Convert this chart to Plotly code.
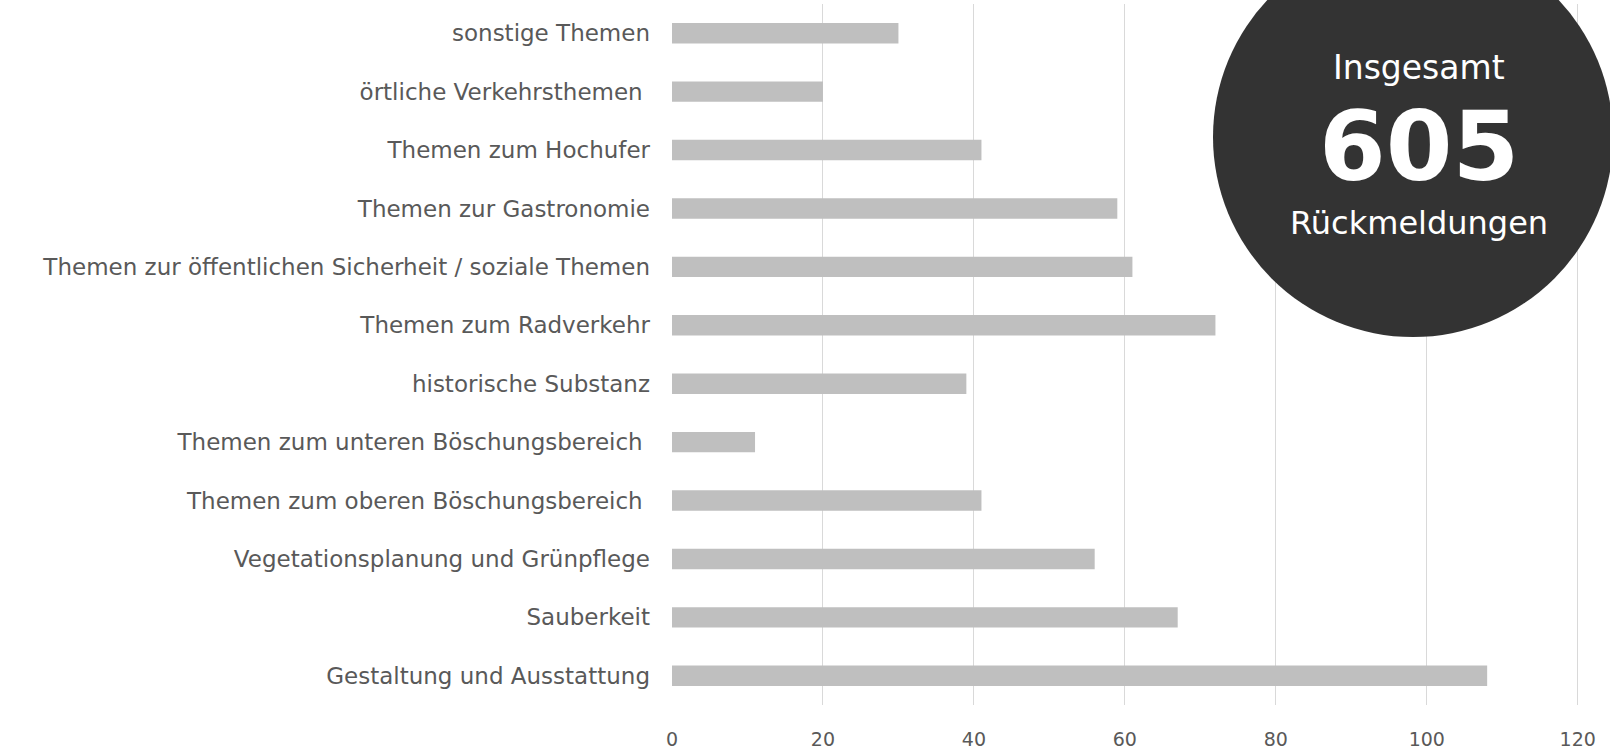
import plotly.graph_objects as go

categories = [
    "Gestaltung und Ausstattung",
    "Sauberkeit",
    "Vegetationsplanung und Grünpflege",
    "Themen zum oberen Böschungsbereich ",
    "Themen zum unteren Böschungsbereich ",
    "historische Substanz",
    "Themen zum Radverkehr",
    "Themen zur öffentlichen Sicherheit / soziale Themen",
    "Themen zur Gastronomie",
    "Themen zum Hochufer",
    "örtliche Verkehrsthemen ",
    "sonstige Themen",
]
values = [108, 67, 56, 41, 11, 39, 72, 61, 59, 41, 20, 30]
x_ticks = [0, 20, 40, 60, 80, 100, 120]
total_label = "605"

W, H = 1610, 751
ML, MR, MT, MB = 672, 30, 4, 46
PW, PH = W - ML - MR, H - MT - MB

def px_x(p):
    return (p - ML) / PW

def px_y(p):
    return (H - MB - p) / PH

FONT = "DejaVu Sans"
TXT = "#595959"

fig = go.Figure(go.Bar(
    y=categories, x=values, orientation="h",
    marker=dict(color="#bfbfbf", line=dict(width=0)),
    width=0.35, hoverinfo="x+y",
))

fig.update_layout(
    width=W, height=H,
    margin=dict(l=ML, r=MR, t=MT, b=MB, pad=0, autoexpand=False),
    paper_bgcolor="white", plot_bgcolor="white",
    showlegend=False,
    font=dict(family=FONT, color=TXT, size=19),
    xaxis=dict(
        range=[0, 120.3], tickvals=x_ticks, ticktext=[str(v) for v in x_ticks],
        showgrid=True, gridcolor="#d9d9d9", gridwidth=1,
        zeroline=False, showline=False, ticks="", ticklabelstandoff=21,
        tickfont=dict(family=FONT, color=TXT, size=19),
        automargin=False,
    ),
    yaxis=dict(
        categoryorder="array", categoryarray=categories,
        range=[-0.5, 11.5],
        showgrid=False, zeroline=False, showline=False, ticks="",
        ticklabelstandoff=21,
        tickfont=dict(family=FONT, color=TXT, size=23),
        automargin=False,
    ),
)

# Circle (total badge)
cx, cy, r = 1413, 137, 200
fig.add_shape(
    type="circle", xref="paper", yref="paper", layer="above",
    x0=px_x(cx - r), x1=px_x(cx + r), y0=px_y(cy + r), y1=px_y(cy - r),
    fillcolor="#333333", line=dict(width=0),
)
fig.add_annotation(xref="paper", yref="paper", x=px_x(1419), y=px_y(68),
                   text="Insgesamt", showarrow=False,
                   font=dict(family=FONT, color="white", size=33),
                   xanchor="center", yanchor="middle")
fig.add_annotation(xref="paper", yref="paper", x=px_x(1419), y=px_y(147),
                   text="<b>" + total_label + "</b>", showarrow=False,
                   font=dict(family=FONT, color="white", size=96),
                   xanchor="center", yanchor="middle")
fig.add_annotation(xref="paper", yref="paper", x=px_x(1419), y=px_y(223),
                   text="Rückmeldungen", showarrow=False,
                   font=dict(family=FONT, color="white", size=32),
                   xanchor="center", yanchor="middle")

fig.write_html(
    "out.html",
    config={"displayModeBar": False},
    post_script="document.body.style.margin='0';document.body.style.overflow='hidden';",
)
